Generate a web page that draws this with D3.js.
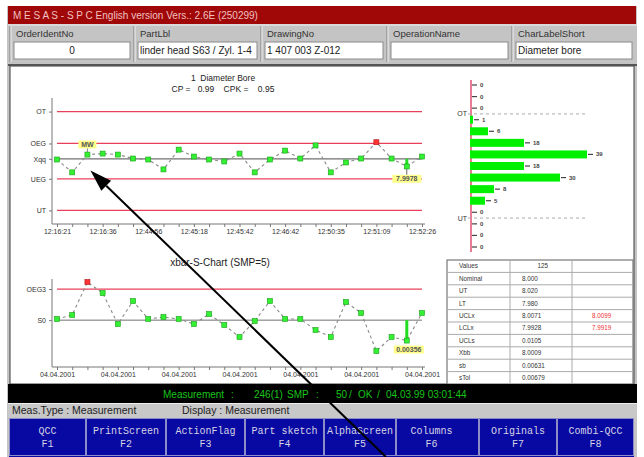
<!DOCTYPE html>
<html>
<head>
<meta charset="utf-8">
<script src="https://cdn.jsdelivr.net/npm/d3@7"></script>
<style>
  body { margin: 0; background: #fff; }
  svg { display: block; font-family: "Liberation Sans", Arial, sans-serif; }
</style>
</head>
<body>
<div id="chart"></div>
<script>
// ---- data ----
const subgroupMeans = [8.0006, 7.9954, 8.0026, 8.0030, 8.0026, 8.0010, 8.0006, 7.9966, 8.0046, 8.0018,
  8.0006, 7.9998, 8.0030, 7.9954, 8.0006, 8.0042, 8.0010, 8.0063, 7.9954, 7.9994,
  8.0010, 8.0076, 8.0010, 7.9978, 8.0018];
const subgroupSdevs = [0.00646, 0.00700, 0.01144, 0.00996, 0.00579, 0.00888, 0.00646, 0.00673, 0.00646, 0.00579,
  0.00713, 0.00565, 0.00404, 0.00619, 0.00888, 0.00646, 0.00646, 0.00498, 0.00404, 0.00875,
  0.00727, 0.00215, 0.00404, 0.00356, 0.00727];
const timeLabels = ["12:16:21", "12:16:36", "12:44:56", "12:45:18", "12:45:42", "12:46:42", "12:50:35", "12:51:09", "12:52:26"];
const dateLabels = ["04.04.2001", "04.04.2001", "04.04.2001", "04.04.2001", "04.04.2001", "04.04.2001", "04.04.2001"];
const xLimitNames = ["OT", "OEG", "Xqq", "UEG", "UT"];
const xLimitValues = [8.020, 8.0071, 8.0009, 7.9928, 7.980];
const sLimitNames = ["OEG3", "S0"];
const sLimitValues = [0.0105, 0.00631];
const histCounts = [0, 0, 0, 1, 6, 18, 39, 18, 30, 8, 5, 0, 0, 0, 0];
const tableNames = ["Values", "Nominal", "UT", "LT", "UCLx", "LCLx", "UCLs", "Xbb", "sb", "sTol"];
const tableValues = ["125", "8.000", "8.020", "7.980", "8.0071", "7.9928", "0.0105", "8.0009", "0.00631", "0.00679"];
const tableExtra = ["", "", "", "", "8.0099", "7.9919", "", "", "", ""];
const headerLabels = ["OrderIdentNo", "PartLbl", "DrawingNo", "OperationName", "CharLabelShort"];
const headerValues = ["0", "linder head S63 / Zyl. 1-4", "1 407 003 Z-012", "", "Diameter bore"];
const fKeyNames = ["QCC", "PrintScreen", "ActionFlag", "Part sketch", "AlphaScreen", "Columns", "Originals", "Combi-QCC"];
const fKeyCodes = ["F1", "F2", "F3", "F4", "F5", "F6", "F7", "F8"];
const statusParts = ["Measurement", ":", "246(1)", "SMP", ":", "50", "/", "OK", "/", "04.03.99 03:01:44"];

const width = 644;
const height = 457;
const limitRed = '#e8405a';
const ptGreen = '#33f033';

let svg = d3.select('#chart').append('svg')
  .attr('width', width)
  .attr('height', height);

// ---- window chrome ----
svg.append('rect').attr('x', 7).attr('y', 6).attr('width', 630).attr('height', 451).attr('fill', '#c4c4c4');
svg.append('rect').attr('x', 8).attr('y', 6).attr('width', 628).attr('height', 18).attr('fill', '#a00808');
svg.append('text').attr('x', 13).attr('y', 19).attr('font-size', 10).attr('fill', '#f2c0c0')
  .text('M E S A S - S P C English version Vers.: 2.6E (250299)');

let fieldEdges = [10, 134, 261, 387, 512, 636];
headerLabels.forEach((lbl, i) => {
  let x0 = fieldEdges[i], x1 = fieldEdges[i + 1];
  let g = svg.append('g');
  g.append('line').attr('x1', x0).attr('x2', x0).attr('y1', 26).attr('y2', 62).attr('stroke', '#808080');
  g.append('line').attr('x1', x0 + 1).attr('x2', x0 + 1).attr('y1', 26).attr('y2', 62).attr('stroke', '#f0f0f0');
  g.append('text').attr('x', x0 + 6).attr('y', 37).attr('font-size', 9.5).attr('fill', '#333').text(lbl);
  g.append('rect').attr('x', x0 + 4).attr('y', 42).attr('width', x1 - x0 - 8).attr('height', 17)
    .attr('fill', '#fff').attr('stroke', '#8a8a8a');
  g.append('text')
    .attr('x', i === 0 ? (x0 + x1) / 2 : x0 + 6)
    .attr('text-anchor', i === 0 ? 'middle' : 'start')
    .attr('y', 54).attr('font-size', 10).attr('fill', '#222').text(headerValues[i]);
});
svg.append('line').attr('x1', 8).attr('x2', 637).attr('y1', 25).attr('y2', 25).attr('stroke', '#eee');

// main white panel
svg.append('rect').attr('x', 10).attr('y', 66).attr('width', 624).attr('height', 318)
  .attr('fill', '#fff').attr('stroke', '#3a3a3a');
svg.append('line').attr('x1', 8).attr('x2', 637).attr('y1', 65).attr('y2', 65).attr('stroke', '#555').attr('stroke-width', 2);

// ---- x-bar chart ----
let xIdx = d3.scaleLinear().domain([0, subgroupMeans.length - 1]).range([57, 422]);
let yU = d3.scaleLinear().domain([7.9745, 8.0255]).range([224, 98]);
let yS = d3.scaleLinear().domain([0, 0.01185]).range([367, 279]);
let idx = d3.range(subgroupMeans.length);

let meanChart = svg.append('g');
meanChart.append('text').attr('x', 223).attr('y', 81).attr('text-anchor', 'middle').attr('font-size', 8.5)
  .attr('fill', '#222').attr('xml:space', 'preserve').text('1  Diameter Bore');
meanChart.append('text').attr('x', 223).attr('y', 92).attr('text-anchor', 'middle').attr('font-size', 8.5)
  .attr('fill', '#222').attr('xml:space', 'preserve').text('CP =   0.99    CPK =    0.95');

let drawAxes = (g, y, yNames, yValues, xLabels, every, axisY, yTop) => {
  let ax = g.append('g').attr('transform', `translate(0,${axisY})`)
    .call(d3.axisBottom(xIdx).tickValues(idx).tickSize(3).tickSizeOuter(0)
      .tickFormat(i => i % every === 0 ? xLabels[i / every] : ''));
  ax.select('.domain').remove();
  ax.selectAll('line').attr('stroke', '#777');
  ax.selectAll('text').attr('font-size', 7).attr('fill', '#333').attr('dy', '0.6em').attr('font-family', null);
  g.append('line').attr('x1', 52).attr('x2', 425).attr('y1', axisY).attr('y2', axisY).attr('stroke', '#777');
  let ay = g.append('g').attr('transform', 'translate(52,0)')
    .call(d3.axisLeft(y).tickValues(yValues).tickSize(3).tickFormat((d, i) => yNames[i]));
  ay.select('.domain').remove();
  ay.selectAll('line').attr('stroke', '#777');
  ay.selectAll('text').attr('font-size', 7).attr('fill', '#333').attr('font-family', null);
  g.append('line').attr('x1', 52).attr('x2', 52).attr('y1', yTop).attr('y2', axisY).attr('stroke', '#777');
};

let drawSeries = (g, values, y, isRed) => {
  g.append('path').datum(values)
    .attr('d', d3.line().x((d, i) => xIdx(i)).y(d => y(d)))
    .attr('fill', 'none').attr('stroke', '#8a8a8a').attr('stroke-width', 1.1).attr('stroke-dasharray', '3,3');
  g.selectAll('rect.pt').data(values).enter().append('rect')
    .classed('pt', true)
    .attr('x', (d, i) => xIdx(i) - 2.5).attr('y', d => y(d) - 2.5)
    .attr('width', 5).attr('height', 5)
    .attr('fill', (d, i) => isRed(d, i) ? '#ff3535' : ptGreen)
    .attr('stroke', (d, i) => isRed(d, i) ? '#b01010' : '#18a018').attr('stroke-width', 0.6);
};

let tag = (g, cx, cy, w, label) => {
  g.append('rect').attr('x', cx - w / 2).attr('y', cy - 4).attr('width', w).attr('height', 8).attr('fill', '#ffff8c');
  g.append('text').attr('x', cx).attr('y', cy + 2.5).attr('text-anchor', 'middle').attr('font-size', 7)
    .attr('font-weight', 'bold').attr('fill', '#555').text(label);
};

xLimitValues.forEach((v, i) => {
  meanChart.append('line').attr('x1', xIdx(0)).attr('x2', xIdx(idx.length - 1))
    .attr('y1', yU(v)).attr('y2', yU(v))
    .attr('stroke', xLimitNames[i] === 'Xqq' ? '#707070' : limitRed).attr('stroke-width', 1.3);
});
drawAxes(meanChart, yU, xLimitNames, xLimitValues, timeLabels, 3, 224, 98);

// marker for the mean ("MW") and the last low value
meanChart.append('line').attr('x1', xIdx(2)).attr('x2', xIdx(2)).attr('y1', yU(8.0071) + 4).attr('y2', yU(subgroupMeans[2]))
  .attr('stroke', '#888');
tag(meanChart, xIdx(2), yU(8.0071) + 1, 18, 'MW');
meanChart.append('line').attr('x1', xIdx(23)).attr('x2', xIdx(23)).attr('y1', yU(xLimitValues[2])).attr('y2', yU(subgroupMeans[23]))
  .attr('stroke', '#22dd22').attr('stroke-width', 3);
meanChart.append('line').attr('x1', xIdx(23)).attr('x2', xIdx(23)).attr('y1', yU(subgroupMeans[23])).attr('y2', yU(7.9928) - 4)
  .attr('stroke', '#666');
tag(meanChart, xIdx(23), yU(7.9928), 29, '7.9978');
drawSeries(meanChart, subgroupMeans, yU, d => d > xLimitValues[1]);

// ---- s chart ----
let sChart = svg.append('g');
sChart.append('text').attr('x', 220).attr('y', 266).attr('text-anchor', 'middle').attr('font-size', 10)
  .attr('fill', '#222').text('xbar-S-Chart (SMP=5)');
sLimitValues.forEach((v, i) => {
  sChart.append('line').attr('x1', xIdx(0)).attr('x2', xIdx(idx.length - 1))
    .attr('y1', yS(v)).attr('y2', yS(v))
    .attr('stroke', i === 0 ? limitRed : '#707070').attr('stroke-width', i === 0 ? 1.3 : 1);
});
drawAxes(sChart, yS, sLimitNames, sLimitValues, dateLabels, 4, 367, 279);
sChart.append('line').attr('x1', xIdx(23)).attr('x2', xIdx(23)).attr('y1', yS(sLimitValues[1])).attr('y2', yS(subgroupSdevs[23]))
  .attr('stroke', '#22dd22').attr('stroke-width', 3);
tag(sChart, xIdx(23) + 2, yS(subgroupSdevs[23]) + 9, 30, '0.00356');
drawSeries(sChart, subgroupSdevs, yS, d => d > sLimitValues[0]);

// ---- histogram ----
let hist = svg.append('g');
let hy = d3.scalePoint().domain(d3.range(histCounts.length)).range([85, 247]);
let hx = d3.scaleLinear().domain([0, 39]).range([470, 587]);
hist.append('line').attr('x1', 471).attr('x2', 471).attr('y1', 80).attr('y2', 252).attr('stroke', '#e05070').attr('stroke-width', 1.5);
[[2.5, 'OT'], [11.5, 'UT']].forEach(([pos, name]) => {
  let y = (hy(Math.floor(pos)) + hy(Math.ceil(pos))) / 2;
  hist.append('line').attr('x1', 468).attr('x2', 588).attr('y1', y).attr('y2', y)
    .attr('stroke', '#aaa').attr('stroke-dasharray', '3,3');
  hist.append('text').attr('x', 467).attr('y', y + 2.5).attr('text-anchor', 'end').attr('font-size', 7)
    .attr('fill', '#333').text(name);
});
hist.selectAll('rect.bin').data(histCounts).enter().append('rect')
  .classed('bin', true)
  .attr('x', hx(0)).attr('y', (d, i) => hy(i) - 4)
  .attr('width', d => hx(d) - hx(0)).attr('height', 8)
  .attr('fill', '#00f000');
hist.selectAll('line.tk').data(histCounts).enter().append('line')
  .classed('tk', true)
  .attr('x1', d => Math.max(hx(d), 471) + 1).attr('x2', d => Math.max(hx(d), 471) + 6)
  .attr('y1', (d, i) => hy(i)).attr('y2', (d, i) => hy(i))
  .attr('stroke', '#444').attr('stroke-width', 1.2);
hist.selectAll('text.cnt').data(histCounts).enter().append('text')
  .classed('cnt', true)
  .attr('x', d => Math.max(hx(d), 471) + 9).attr('y', (d, i) => hy(i) + 2)
  .attr('font-size', 6).attr('font-weight', 'bold').attr('fill', '#444')
  .text(d => d);

// ---- statistics table ----
let cols = [447, 510, 572, 633];
let rowH = 12.4;
let tbl = svg.append('g');
tbl.append('rect').attr('x', cols[0]).attr('y', 260).attr('width', cols[3] - cols[0]).attr('height', rowH * tableNames.length)
  .attr('fill', '#fff').attr('stroke', '#777').attr('stroke-width', 1.2);
tableNames.forEach((name, i) => {
  let y = 260 + i * rowH;
  if (i > 0) tbl.append('line').attr('x1', cols[0]).attr('x2', cols[3]).attr('y1', y).attr('y2', y).attr('stroke', '#aaa');
  tbl.append('text').attr('x', 459).attr('y', y + 8.3).attr('font-size', 6.3).attr('fill', '#333').text(name);
  tbl.append('text').attr('x', i === 0 ? 548 : 522).attr('text-anchor', i === 0 ? 'end' : 'start')
    .attr('y', y + 8.3).attr('font-size', 6.3).attr('fill', '#333').text(tableValues[i]);
  tbl.append('text').attr('x', 592).attr('y', y + 8.3).attr('font-size', 6.3).attr('fill', '#f03030').text(tableExtra[i]);
});
[cols[1], cols[2]].forEach(x => tbl.append('line').attr('x1', x).attr('x2', x).attr('y1', 260).attr('y2', 260 + rowH * tableNames.length).attr('stroke', '#aaa'));

// ---- status bars ----
svg.append('rect').attr('x', 8).attr('y', 384).attr('width', 629).attr('height', 19).attr('fill', '#000');
let statusX = [163, 231, 254, 287, 316, 336, 349, 358, 377, 386];
statusParts.forEach((t, i) => {
  svg.append('text').attr('x', statusX[i]).attr('y', 398).attr('font-size', 10).attr('fill', '#18c418').text(t);
});
svg.append('rect').attr('x', 8).attr('y', 403).attr('width', 629).attr('height', 15).attr('fill', '#c8c8c8');
svg.append('line').attr('x1', 8).attr('x2', 637).attr('y1', 403.5).attr('y2', 403.5).attr('stroke', '#eee');
svg.append('text').attr('x', 12).attr('y', 414).attr('font-size', 10.5).attr('fill', '#222').text('Meas.Type : Measurement');
svg.append('text').attr('x', 182).attr('y', 414).attr('font-size', 10.5).attr('fill', '#222').text('Display : Measurement');

// ---- function keys ----
let keyEdges = [9, 86, 166, 245, 324, 396, 479, 557, 634];
svg.append('rect').attr('x', 9).attr('y', 418).attr('width', 625).attr('height', 39).attr('fill', '#0808a2');
fKeyNames.forEach((name, i) => {
  let x0 = keyEdges[i], x1 = keyEdges[i + 1];
  svg.append('rect').attr('x', x0 + 0.5).attr('y', 418.5).attr('width', x1 - x0 - 1).attr('height', 37)
    .attr('fill', 'none').attr('stroke', '#8c8cc8');
  let cx = (x0 + x1) / 2 - (i === 5 ? 6 : 0);
  svg.append('text').attr('x', cx).attr('y', 434).attr('text-anchor', 'middle')
    .attr('font-family', '"Liberation Mono", "DejaVu Sans Mono", monospace').attr('font-size', 10)
    .attr('fill', '#d4d4e4').text(name);
  svg.append('text').attr('x', cx).attr('y', 447).attr('text-anchor', 'middle')
    .attr('font-family', '"Liberation Mono", "DejaVu Sans Mono", monospace').attr('font-size', 10)
    .attr('fill', '#d4d4e4').text(fKeyCodes[i]);
});

// ---- hand-drawn arrow pointing at the MW point ----
let tip = [xIdx(2) + 3, yU(7.9962)];
let tail = [386, 457];
let dx = tip[0] - tail[0], dy = tip[1] - tail[1];
let len = Math.hypot(dx, dy);
let ux = dx / len, uy = dy / len;
let base = [tip[0] - 22 * ux, tip[1] - 22 * uy];
svg.append('line').attr('x1', tail[0]).attr('y1', tail[1]).attr('x2', base[0]).attr('y2', base[1])
  .attr('stroke', '#000').attr('stroke-width', 2);
svg.append('path')
  .attr('d', `M${tip[0]},${tip[1]}L${base[0] - 7 * uy},${base[1] + 7 * ux}L${base[0] + 7 * uy},${base[1] - 7 * ux}Z`)
  .attr('fill', '#000');
</script>
</body>
</html>
